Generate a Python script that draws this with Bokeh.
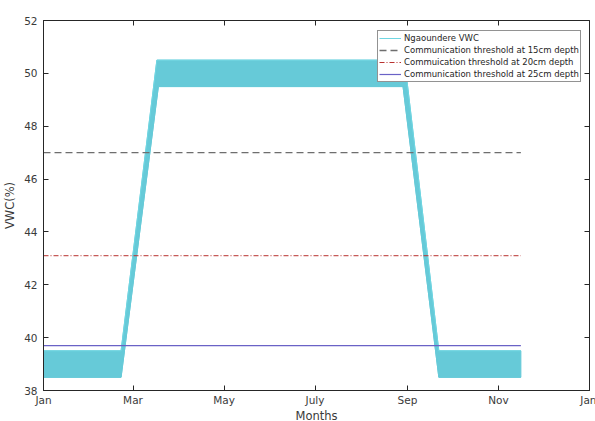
import pandas as pd
from bokeh.plotting import figure
from bokeh.models import (Range1d, FixedTicker, DatetimeAxis, LinearAxis, Legend,
                          LegendItem, DatetimeTickFormatter)
from bokeh.embed import file_html
from bokeh.resources import INLINE

# ---- data ----
upper_dates = ["2020-01-01", "2020-02-22", "2020-03-17", "2020-08-30", "2020-09-22", "2020-11-16"]
upper_vals = [39.5, 39.5, 50.5, 50.5, 39.5, 39.5]
lower_dates = ["2020-01-01", "2020-02-22", "2020-03-18", "2020-08-29", "2020-09-22", "2020-11-16"]
lower_vals = [38.5, 38.5, 49.5, 49.5, 38.5, 38.5]

thr_dates = ["2020-01-01", "2020-11-16"]
thr_15 = 47.0
thr_20 = 43.1
thr_25 = 39.7

x_tick_dates = ["2020-01-01", "2020-03-01", "2020-05-01", "2020-07-01",
                "2020-09-01", "2020-11-01", "2021-01-01"]
x_tick_labels = ["Jan", "Mar", "May", "July", "Sep", "Nov", "Jan"]
y_ticks = [38, 40, 42, 44, 46, 48, 50, 52]


def ms(s):
    return pd.Timestamp(s).value / 1e6


axis_col = "#262626"
font = "DejaVu Sans"

p = figure(frame_width=546, frame_height=370, x_axis_type="datetime",
           output_backend="svg", toolbar_location=None,
           min_border_left=42, min_border_right=7, min_border_top=20, min_border_bottom=31,
           x_range=Range1d(ms(x_tick_dates[0]), ms(x_tick_dates[-1])),
           y_range=Range1d(38, 52))
p.xgrid.visible = False
p.ygrid.visible = False
p.outline_line_color = axis_col
p.outline_line_width = 1
p.background_fill_color = "white"

ud = pd.to_datetime(upper_dates)
ldt = pd.to_datetime(lower_dates)
band_x = list(ud) + list(ldt[::-1])
band_y = upper_vals + lower_vals[::-1]
cyan = "#66CAD8"
p.patch(band_x, band_y, fill_color=cyan, line_color=cyan, line_width=1)
vwc_line = p.line(ud, upper_vals, line_color="#6FD6E2", line_width=1)
p.line(ldt, lower_vals, line_color=cyan, line_width=1)

td = pd.to_datetime(thr_dates)
r15 = p.line(td, [thr_15, thr_15], line_color="#6E6E6E", line_width=1.3, line_dash="7 4")
r20 = p.line(td, [thr_20, thr_20], line_color="#B8312F", line_width=1, line_dash="5 2 1 2")
r25 = p.line(td, [thr_25, thr_25], line_color="#6A62C6", line_width=1.2)

tick_ms = [ms(d) for d in x_tick_dates]

xa = p.xaxis[0]
xa.ticker = FixedTicker(ticks=tick_ms)
xa.formatter = DatetimeTickFormatter(months="%b", days="%b", years="%b")
xa.major_label_overrides = {t: lab for t, lab in zip(tick_ms, x_tick_labels)}
xa.axis_label = "Months"

ya = p.yaxis[0]
ya.ticker = FixedTicker(ticks=y_ticks)
ya.axis_label = "VWC(%)"

for ax in (xa, ya):
    ax.axis_line_color = axis_col
    ax.major_tick_line_color = axis_col
    ax.major_tick_in = 5
    ax.major_tick_out = 0
    ax.minor_tick_line_color = None
    ax.major_label_text_font = font
    ax.major_label_text_font_size = "10.5px"
    ax.major_label_text_color = "#3a3a3a"
    ax.axis_label_text_font = font
    ax.axis_label_text_font_size = "11.5px"
    ax.axis_label_text_font_style = "normal"
    ax.axis_label_text_color = "#3a3a3a"
xa.major_label_standoff = 3
xa.axis_label_standoff = 0
ya.major_label_standoff = 6
ya.axis_label_standoff = 4

top = DatetimeAxis(ticker=FixedTicker(ticks=tick_ms),
                   major_label_overrides={t: "" for t in tick_ms},
                   major_label_standoff=0, axis_line_color=None, major_tick_in=5,
                   major_tick_out=0, minor_tick_line_color=None,
                   major_tick_line_color=axis_col)
p.add_layout(top, "above")
right = LinearAxis(ticker=FixedTicker(ticks=y_ticks),
                   major_label_overrides={t: "" for t in y_ticks},
                   major_label_standoff=0, axis_line_color=None, major_tick_in=5,
                   major_tick_out=0, minor_tick_line_color=None,
                   major_tick_line_color=axis_col)
p.add_layout(right, "right")

legend = Legend(items=[
    LegendItem(label="Ngaoundere VWC", renderers=[vwc_line]),
    LegendItem(label="Communication threshold at 15cm depth", renderers=[r15]),
    LegendItem(label="Commuication threshold at 20cm depth", renderers=[r20]),
    LegendItem(label="Communication threshold at 25cm depth", renderers=[r25]),
], location=(334, 308))
legend.border_line_color = axis_col
legend.border_line_width = 1
legend.background_fill_color = "white"
legend.background_fill_alpha = 1
legend.padding = 1
legend.spacing = 0
legend.margin = 0
legend.label_height = 12
legend.glyph_height = 12
legend.glyph_width = 22
legend.label_standoff = 3
legend.label_text_font = font
legend.label_text_font_size = "8.5px"
legend.label_text_color = "#262626"
p.add_layout(legend, "center")

open("out.html", "w").write(file_html(p, INLINE))
